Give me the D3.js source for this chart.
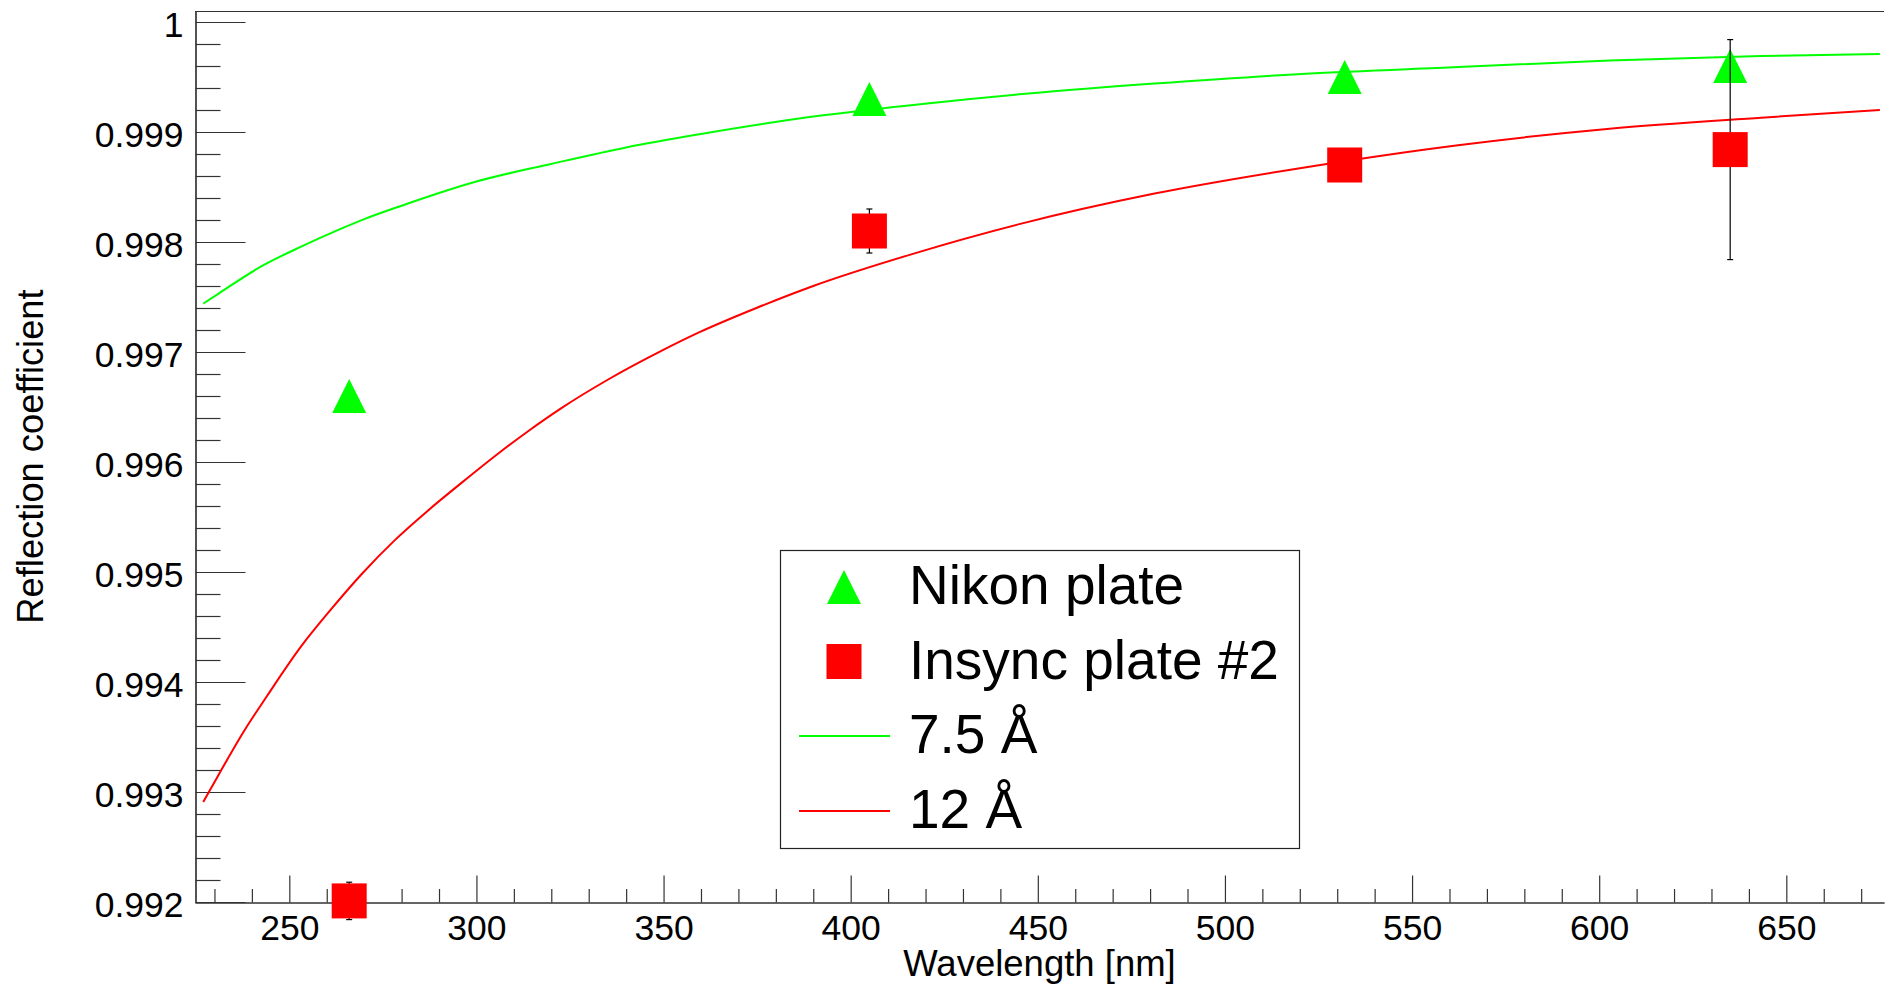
<!DOCTYPE html>
<html>
<head>
<meta charset="utf-8">
<script src="https://cdn.jsdelivr.net/npm/d3@7"></script>
<style>
  body { margin: 0; background: #fff; }
  svg { display: block; font-family: "Liberation Sans", Arial, sans-serif; }
</style>
</head>
<body>
<svg width="1890" height="986"></svg>
<script>
/* Measured points */
let wavelengths = [266, 405, 532, 635];
let nikon = [0.99660, 0.99930, 0.99950, 0.99960];
let insync = [0.99201, 0.99810, 0.99870, 0.99884];
let insyncErr = [0.00017, 0.00020, 0.00010, 0.00100];

/* Model curves */
let curveNm7 = [227, 231.5, 242.6, 253.3, 263.1, 270.2, 280, 300, 320, 340, 359.6, 390, 420.4, 450.8, 481.2, 521.7, 562.3, 602.8, 643.3, 675];
let curve7 = [0.99744, 0.99754, 0.99778, 0.99796, 0.99811, 0.99821, 0.99833, 0.99855, 0.99871, 0.99886, 0.99898, 0.99914, 0.99926, 0.99936, 0.99944, 0.99953, 0.99959, 0.99965, 0.99969, 0.99971];
let curveNm12 = [227, 231.5, 238.2, 244, 253.3, 260.4, 269.3, 278.2, 287.1, 296, 306.7, 313.8, 322.7, 335.2, 349.4, 359.6, 374.8, 390, 416.4, 444.8, 481.2, 521.7, 562.3, 602.8, 643.3, 675];
let curve12 = [0.99291, 0.99318, 0.99357, 0.99387, 0.99433, 0.99463, 0.99498, 0.99529, 0.99556, 0.99581, 0.99610, 0.99628, 0.99649, 0.99675, 0.99701, 0.99718, 0.99740, 0.99760, 0.99789, 0.99816, 0.99844, 0.99868, 0.99888, 0.99903, 0.99913, 0.99920];

/* Ticks */
let xTicks = [250, 300, 350, 400, 450, 500, 550, 600, 650];
let xMinor = d3.range(230, 680, 10).filter(v => v % 50 !== 0);
let yTicks = [0.992, 0.993, 0.994, 0.995, 0.996, 0.997, 0.998, 0.999, 1];
let yTickLabels = ["0.992", "0.993", "0.994", "0.995", "0.996", "0.997", "0.998", "0.999", "1"];
let yMinor = d3.range(0, 41).map(i => 0.992 + i * 0.0002).filter((v, i) => i % 5 !== 0);

let legendLabels = ["Nikon plate", "Insync plate #2", "7.5 \u00C5", "12 \u00C5"];

let green = '#00ff00';
let red = '#ff0000';

let svg = d3.select('svg');
let padLeft = 195, padRight = 1884, padTop = 11, padBottom = 902;

let x = d3.scaleLinear().domain([224.8, 676.1]).range([padLeft, padRight]);
let y = d3.scaleLinear().domain([0.992, 1.0001]).range([padBottom, padTop]);

/* Frame top */
svg.append('line').attr('x1', padLeft).attr('x2', padRight).attr('y1', padTop + 0.5).attr('y2', padTop + 0.5)
  .attr('stroke', '#333').attr('stroke-width', 1.2);

/* Y axis */
let gy = svg.append('g').attr('transform', `translate(${padLeft + 0.5},0)`).style('color', '#333');
gy.call(d3.axisLeft(y).tickValues(yMinor).tickSize(-25).tickFormat('').tickSizeOuter(0));
gy.append('g').call(d3.axisLeft(y).tickValues(yTicks).tickSize(-50).tickSizeOuter(0).tickPadding(12)
  .tickFormat((d, i) => yTickLabels[i]));
gy.selectAll('text').attr('fill', '#000').attr('font-size', 35.5).attr('dy', '0.41em')
  .attr('font-family', '"Liberation Sans", Arial, sans-serif');
gy.selectAll('line, path').attr('stroke-width', 1.2);

/* X axis */
let gx = svg.append('g').attr('transform', `translate(0,${padBottom + 0.5})`).style('color', '#333');
gx.call(d3.axisBottom(x).tickValues(xMinor).tickSize(-13.5).tickFormat('').tickSizeOuter(0));
gx.append('g').call(d3.axisBottom(x).tickValues(xTicks).tickSize(-27).tickSizeOuter(0).tickPadding(12));
gx.selectAll('text').attr('fill', '#000').attr('font-size', 35.5)
  .attr('font-family', '"Liberation Sans", Arial, sans-serif');
gx.selectAll('line, path').attr('stroke-width', 1.2);

/* Axis titles */
svg.append('text').attr('x', (padLeft + padRight) / 2).attr('y', 976).attr('text-anchor', 'middle')
  .attr('font-size', 36.5).text('Wavelength [nm]');
svg.append('text').attr('transform', `translate(43,${(padTop + padBottom) / 2}) rotate(-90)`)
  .attr('text-anchor', 'middle').attr('font-size', 36.3).text('Reflection coefficient');

/* Curves */
let line = d3.line().curve(d3.curveMonotoneX).x(d => x(d[0])).y(d => y(d[1]));
svg.append('path').datum(d3.zip(curveNm7, curve7)).attr('d', line)
  .attr('fill', 'none').attr('stroke', green).attr('stroke-width', 2);
svg.append('path').datum(d3.zip(curveNm12, curve12)).attr('d', line)
  .attr('fill', 'none').attr('stroke', red).attr('stroke-width', 2);

/* Markers */
let triSize = 34, sqSize = 35;
function triangle(cx, cy, s) {
  return `M${cx},${cy - s / 2}L${cx + s / 2},${cy + s / 2}L${cx - s / 2},${cy + s / 2}Z`;
}

svg.append('g').selectAll('path').data(d3.zip(wavelengths, nikon)).enter().append('path')
  .attr('d', d => triangle(x(d[0]), y(d[1]), triSize))
  .attr('fill', green);

let err = svg.append('g').selectAll('g').data(d3.zip(wavelengths, insync, insyncErr)).enter().append('g')
  .attr('stroke', '#000').attr('stroke-width', 1.2);
err.append('line')
  .attr('x1', d => x(d[0])).attr('x2', d => x(d[0]))
  .attr('y1', d => y(d[1] + d[2])).attr('y2', d => y(d[1] - d[2]));
err.append('line')
  .attr('x1', d => x(d[0]) - 3).attr('x2', d => x(d[0]) + 3)
  .attr('y1', d => y(d[1] + d[2])).attr('y2', d => y(d[1] + d[2]));
err.append('line')
  .attr('x1', d => x(d[0]) - 3).attr('x2', d => x(d[0]) + 3)
  .attr('y1', d => y(d[1] - d[2])).attr('y2', d => y(d[1] - d[2]));

svg.append('g').selectAll('rect').data(d3.zip(wavelengths, insync)).enter().append('rect')
  .attr('x', d => x(d[0]) - sqSize / 2).attr('y', d => y(d[1]) - sqSize / 2)
  .attr('width', sqSize).attr('height', sqSize)
  .attr('fill', red);

/* Legend */
let lg = svg.append('g');
lg.append('rect').attr('x', 780.5).attr('y', 550.5).attr('width', 519).attr('height', 298)
  .attr('fill', '#fff').attr('stroke', '#222').attr('stroke-width', 1.2);
let rows = [587, 661.5, 736, 811];
lg.append('path').attr('d', triangle(844, rows[0], triSize)).attr('fill', green);
lg.append('rect').attr('x', 844 - sqSize / 2).attr('y', rows[1] - sqSize / 2)
  .attr('width', sqSize).attr('height', sqSize).attr('fill', red);
lg.append('line').attr('x1', 799).attr('x2', 890).attr('y1', rows[2]).attr('y2', rows[2])
  .attr('stroke', green).attr('stroke-width', 2);
lg.append('line').attr('x1', 799).attr('x2', 890).attr('y1', rows[3]).attr('y2', rows[3])
  .attr('stroke', red).attr('stroke-width', 2);
lg.selectAll('text.lab').data(legendLabels).enter().append('text')
  .attr('x', 909).attr('y', (d, i) => rows[i] + 17)
  .attr('font-size', 55).text(d => d);
</script>
</body>
</html>
